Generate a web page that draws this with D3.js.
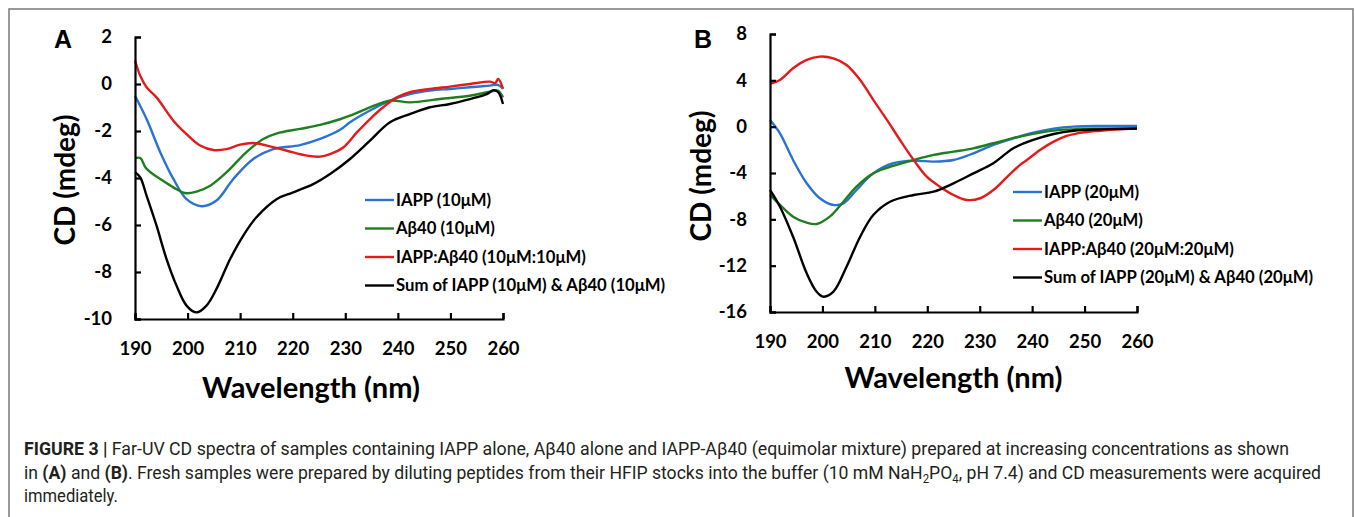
<!DOCTYPE html>
<html>
<head>
<meta charset="utf-8">
<script src="https://cdn.jsdelivr.net/npm/d3@7"></script>
<style>
  body { margin: 0; background: #fff; }
  svg { display: block; }
</style>
</head>
<body>
<div id="chart"></div>
<script>
// panel A data: [wavelength nm, CD mdeg]
var iappA = [[190,-0.5],[192.2,-1.49],[194.8,-2.9],[197.3,-4.04],[199.8,-4.9],[202.7,-5.2],[205.5,-4.96],[208.7,-4.04],[212.5,-3.19],[216.3,-2.77],[221.4,-2.6],[225.2,-2.34],[229,-1.95],[230.9,-1.63],[234.7,-1.13],[238.5,-0.71],[242.3,-0.43],[246.1,-0.28],[249.9,-0.21],[253.7,-0.14],[257.5,-0.07],[259,-0.04],[260,-0.2]];
var abA = [[190,-3.15],[191,-3.15],[192,-3.55],[193.2,-3.8],[194.8,-4.04],[197.3,-4.4],[199.5,-4.64],[201.7,-4.58],[204.3,-4.33],[207.4,-3.76],[211.2,-2.9],[214.4,-2.34],[217,-2.1],[221.4,-1.91],[225.2,-1.74],[229,-1.5],[230.9,-1.35],[234.7,-0.99],[238.5,-0.71],[242.3,-0.78],[248,-0.64],[253.7,-0.5],[257.5,-0.33],[259,-0.28],[260,-0.57]];
var mixA = [[190,1.0],[191,0.35],[192.2,-0.14],[194.1,-0.57],[197.3,-1.56],[199.8,-2.13],[202.4,-2.62],[204.9,-2.81],[207.4,-2.77],[210,-2.58],[212.5,-2.51],[215.1,-2.62],[218.9,-2.84],[222.7,-3.05],[225.2,-3.09],[227.1,-2.98],[229.6,-2.7],[232.2,-2.06],[234.7,-1.49],[237.2,-0.99],[239.8,-0.57],[242.3,-0.35],[246.1,-0.21],[249.9,-0.11],[253.7,0],[257.5,0.1],[258.5,0.04],[259.1,0.21],[260,-0.21]];
var sumA = [[190,-3.75],[191,-3.97],[192.2,-4.75],[194.1,-6.03],[196,-7.45],[197.9,-8.58],[199.8,-9.43],[201.7,-9.72],[203.6,-9.43],[205.5,-8.72],[208.1,-7.45],[210.6,-6.45],[213.1,-5.67],[217,-4.89],[220.1,-4.61],[223.9,-4.26],[227.1,-3.83],[230.9,-3.19],[234.7,-2.41],[238.5,-1.63],[242.3,-1.28],[246.1,-0.99],[249.9,-0.85],[253.7,-0.64],[256.9,-0.43],[258.2,-0.26],[259.1,-0.35],[260,-0.85]];

// panel B data
var iappB = [[190,0.58],[191.9,-0.57],[194.4,-2.88],[197,-4.89],[199.5,-6.18],[202.1,-6.76],[204,-6.62],[206.5,-5.47],[209.7,-4.03],[213.5,-3.16],[217.4,-2.94],[221.2,-3.02],[225,-2.88],[228.8,-2.3],[232.6,-1.58],[236.4,-1.0],[240.2,-0.52],[244.1,-0.17],[247.9,0],[253,0.06],[260,0.06]];
var abB = [[190,-5.9],[191.9,-6.76],[194.4,-7.77],[197,-8.29],[198.9,-8.4],[201.4,-7.77],[204,-6.48],[206.5,-5.18],[209.7,-4.03],[213.5,-3.39],[217.4,-2.88],[221.2,-2.44],[225,-2.16],[228.8,-1.87],[232.6,-1.43],[237.7,-0.86],[241.5,-0.52],[245.3,-0.28],[249.1,-0.2],[260,-0.14]];
var mixB = [[190,3.69],[191.9,4.03],[194.4,5.04],[197,5.76],[199.5,6.05],[202.1,5.9],[204.6,5.33],[207.2,4.03],[209.7,2.31],[212.3,0.58],[214.8,-1.15],[217.4,-2.87],[219.9,-4.32],[222.4,-5.18],[225,-5.9],[227.5,-6.33],[230.1,-6.18],[232.6,-5.47],[235.1,-4.4],[237.7,-3.3],[239,-2.88],[241.5,-2.01],[244.1,-1.29],[246.6,-0.8],[249.8,-0.49],[253,-0.35],[256.8,-0.23],[260,-0.17]];
var sumB = [[190,-5.47],[191.9,-6.91],[194.4,-9.5],[197,-12.66],[198.9,-14.25],[200.2,-14.68],[202.1,-14.25],[204.6,-12.09],[207.2,-9.5],[209.7,-7.63],[212.9,-6.48],[217.4,-5.9],[221.2,-5.61],[225,-4.89],[228.8,-4.03],[232.6,-3.16],[234.5,-2.5],[236.4,-1.87],[240.2,-1.15],[244.1,-0.63],[247.9,-0.35],[253,-0.23],[260,-0.17]];

var xTicks = [190, 200, 210, 220, 230, 240, 250, 260];
var yTicksA = [-10, -8, -6, -4, -2, 0, 2];
var yTicksB = [-16, -12, -8, -4, 0, 4, 8];
var legendA = ["IAPP (10\u03bcM)", "A\u03b240 (10\u03bcM)", "IAPP:A\u03b240 (10\u03bcM:10\u03bcM)", "Sum of IAPP (10\u03bcM) & A\u03b240 (10\u03bcM)"];
var legendB = ["IAPP (20\u03bcM)", "A\u03b240 (20\u03bcM)", "IAPP:A\u03b240 (20\u03bcM:20\u03bcM)", "Sum of IAPP (20\u03bcM) & A\u03b240 (20\u03bcM)"];
var colors = ["#2a73d0", "#1f7f1f", "#e41a1c", "#000000"];

var width = 1355, height = 517;
var svg = d3.select("#chart").append("svg")
    .attr("width", width)
    .attr("height", height);

// figure frame
svg.append("rect")
    .attr("x", 9).attr("y", 9)
    .attr("width", 1344).attr("height", 540)
    .attr("fill", "none")
    .attr("stroke", "#7a7a7a")
    .attr("stroke-width", 1.5);

var fontMain = "Lato, 'Open Sans', sans-serif";

function drawPanel(cfg) {
    var x = d3.scaleLinear().domain([190, 260]).range([cfg.x0, cfg.x1]);
    var y = d3.scaleLinear().domain(cfg.yDomain).range([cfg.y0, cfg.y1]);
    var g = svg.append("g");

    var line = d3.line()
        .x(function(d) { return x(d[0]); })
        .y(function(d) { return y(d[1]); })
        .curve(d3.curveCatmullRom.alpha(0.5));

    cfg.series.forEach(function(s, i) {
        g.append("path")
            .datum(s)
            .attr("fill", "none")
            .attr("stroke", colors[i])
            .attr("stroke-width", 2.4)
            .attr("d", line);
    });

    var xAxis = g.append("g")
        .attr("transform", "translate(0," + cfg.y0 + ")")
        .call(d3.axisBottom(x).tickValues(xTicks).tickSize(-6).tickSizeOuter(-6).tickPadding(23)
            .tickFormat(function(d) { return String(d); }));
    var yAxis = g.append("g")
        .attr("transform", "translate(" + cfg.x0 + ",0)")
        .call(d3.axisLeft(y).tickValues(cfg.yTicks).tickSize(-6).tickSizeOuter(-6).tickPadding(23)
            .tickFormat(function(d) { return String(d); }));

    [xAxis, yAxis].forEach(function(a) {
        a.selectAll("path, line").attr("stroke", "#000").attr("stroke-width", 2.2);
        a.selectAll("text")
            .attr("fill", "#000")
            .style("font-family", fontMain)
            .style("font-weight", "bold")
            .style("font-size", "18.5px");
    });

    g.append("text")
        .attr("x", (cfg.x0 + cfg.x1) / 2 + cfg.xlabDx)
        .attr("y", cfg.xlabY)
        .attr("text-anchor", "middle")
        .style("font-family", fontMain)
        .style("font-weight", "bold")
        .style("font-size", "29px")
        .text("Wavelength (nm)");

    g.append("text")
        .attr("transform", "translate(" + cfg.ylabX + "," + cfg.ylabY + ") rotate(-90)")
        .attr("text-anchor", "middle")
        .style("font-family", fontMain)
        .style("font-weight", "bold")
        .style("font-size", "28px")
        .text("CD (mdeg)");

    g.append("text")
        .attr("x", cfg.letterX)
        .attr("y", 48)
        .attr("text-anchor", "middle")
        .style("font-family", "'Liberation Sans', Arial, sans-serif")
        .style("font-weight", "bold")
        .style("font-size", "25px")
        .text(cfg.letter);

    var leg = g.append("g");
    cfg.legend.forEach(function(t, i) {
        var ly = cfg.legY + i * 28.5;
        leg.append("line")
            .attr("x1", cfg.legX).attr("x2", cfg.legX + 29)
            .attr("y1", ly).attr("y2", ly)
            .attr("stroke", colors[i])
            .attr("stroke-width", 2.4);
        leg.append("text")
            .attr("x", cfg.legX + 31)
            .attr("y", ly)
            .attr("dy", "0.35em")
            .style("font-family", fontMain)
            .style("font-weight", "bold")
            .style("font-size", "16.7px")
            .text(t);
    });
}

drawPanel({
    x0: 135, x1: 503, y0: 319, y1: 37, yDomain: [-10, 2], yTicks: yTicksA,
    series: [iappA, abA, mixA, sumA], legend: legendA, legX: 365, legY: 200,
    xlabDx: -8, xlabY: 398, ylabX: 75, ylabY: 180, letter: "A", letterX: 63
});
drawPanel({
    x0: 770, x1: 1137, y0: 312, y1: 34, yDomain: [-16, 8], yTicks: yTicksB,
    series: [iappB, abB, mixB, sumB], legend: legendB, legX: 1013, legY: 192,
    xlabDx: 0, xlabY: 388, ylabX: 711, ylabY: 176, letter: "B", letterX: 703
});

// caption
var capFont = "Roboto, 'Liberation Sans', sans-serif";
var caption = [
    { y: 455, w: 1266, parts: [["FIGURE 3 | ", true], ["Far-UV CD spectra of samples containing IAPP alone, A\u03b240 alone and IAPP-A\u03b240 (equimolar mixture) prepared at increasing concentrations as shown", false]] },
    { y: 479, w: 1298, parts: [["in ", false], ["(A)", true], [" and ", false], ["(B)", true], [". Fresh samples were prepared by diluting peptides from their HFIP stocks into the buffer (10 mM NaH", false], ["2", "sub"], ["PO", false], ["4", "sub"], [", pH 7.4) and CD measurements were acquired", false]] },
    { y: 502, w: 94, parts: [["immediately.", false]] }
];
caption.forEach(function(c) {
    var t = svg.append("text")
        .attr("x", 0)
        .attr("y", 0)
        .attr("fill", "#231f20")
        .style("font-family", capFont)
        .style("font-size", "18.5px");
    var prevSub = false;
    c.parts.forEach(function(p) {
        var ts = t.append("tspan").text(p[0]);
        if (p[1] === true) ts.style("font-weight", "bold");
        if (p[1] === "sub") {
            ts.style("font-size", "12px").attr("dy", 4);
            prevSub = true;
        } else if (prevSub) {
            ts.attr("dy", -4);
            prevSub = false;
        }
    });
    var w = t.node().getComputedTextLength();
    t.attr("transform", "translate(24," + c.y + ") scale(" + (c.w / w) + ",1)");
});
</script>
</body>
</html>
